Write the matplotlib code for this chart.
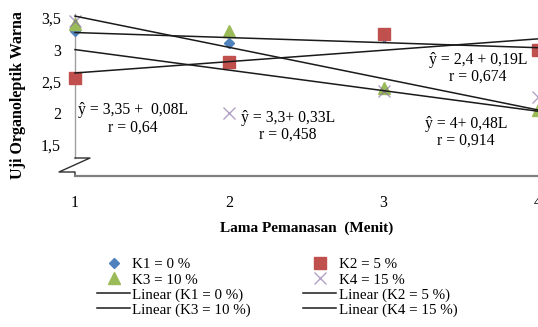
import matplotlib
matplotlib.use("Agg")
import matplotlib.pyplot as plt
from matplotlib.lines import Line2D
import numpy as np

plt.rcParams['font.family'] = ['Liberation Serif', 'DejaVu Serif']

x_vals = [1, 2, 3, 4]
k1 = [3.3, 3.1, 3.2, 3.0]
k2 = [2.55, 2.8, 3.25, 3.0]
k3 = [3.4, 3.3, 2.4, 2.05]
k4 = [3.45, 2.0, 2.35, 2.25]
series_names = ["K1 = 0 %", "K2 = 5 %", "K3 = 10 %", "K4 = 15 %"]
y_ticks = [1.5, 2, 2.5, 3, 3.5]
y_tick_labels = ["1,5", "2", "2,5", "3", "3,5"]
x_ticks = [1, 2, 3, 4]
annotations = [
    ("ŷ = 3,35 +  0,08L", "r = 0,64"),
    ("ŷ = 3,3+ 0,33L", "r = 0,458"),
    ("ŷ = 2,4 + 0,19L", "r = 0,674"),
    ("ŷ = 4+ 0,48L", "r = 0,914"),
]

W, H = 538, 327
fig = plt.figure(figsize=(W / 100, H / 100), dpi=100)
# pixel layout
x1_px, x4_px = 75, 538
y_bottom_px = 176
scale_y = 63.2
ymax = 3.6
ax = fig.add_axes([x1_px / W, (H - y_bottom_px) / H, (x4_px - x1_px) / W,
                   (ymax - 1) * scale_y / H])
ax.set_xlim(1, 4)
ax.set_ylim(1, ymax)

styles = [
    dict(marker='D', color='#4f81bd', ms=5.5, ls='none'),
    dict(marker='s', color='#c0504d', ms=8, ls='none'),
    dict(marker='^', color='#9bbb59', ms=8.5, ls='none'),
    dict(marker='x', color='#8064a2', ms=8.5, mew=1.0, ls='none', alpha=0.6),
]
data = [k1, k2, k3, k4]
xs = np.array(x_vals, dtype=float)
for d, st in zip(data, styles):
    ax.plot(xs, d, clip_on=False, zorder=3, **st)
for d in data:
    m, b = np.polyfit(xs, d, 1)
    ax.plot([1, 4], [m * 1 + b, m * 4 + b], color='#1a1a1a', lw=1.1, zorder=4,
            clip_on=False)

for s in ['top', 'right', 'left', 'bottom']:
    ax.spines[s].set_visible(False)

# axis lines with break
px_x = 1 / 154.33
px_y = 1 / scale_y
ax.plot([1, 1], [1 + 18 * px_y, 3.57], color='#a0a0a0', lw=1.0, clip_on=False, zorder=1)
zx = [1, 1 + 15 * px_x, 1 - 16 * px_x, 1, 1]
zy = [1 + 18 * px_y, 1 + 18 * px_y, 1 + 4 * px_y, 1 + 4 * px_y, 1]
ax.plot(zx, zy, color='#303030', lw=1.0, clip_on=False, zorder=1)
ax.plot([1, 4.05], [1, 1], color='#808080', lw=1.6, clip_on=False, zorder=1)

ax.set_yticks(y_ticks)
ax.set_yticklabels(y_tick_labels)
ax.set_xticks(x_ticks)
ax.set_xticklabels([str(v) for v in x_ticks])
ax.tick_params(axis='y', length=0, pad=10, labelsize=11.5)
ax.tick_params(axis='x', length=0, pad=14, labelsize=11.5)

fig.text(307 / W, 1 - 228 / H, "Lama Pemanasan  (Menit)", ha='center', va='center',
         fontsize=11, fontweight='bold')
fig.text(18 / W, 1 - 95 / H, "Uji Organoleptik Warna", ha='center', va='center',
         rotation=90, fontsize=11.5, fontweight='bold')

# annotation positions in pixels (center x, line1 y, line2 y)
ann_px = [(133, 110, 128), (288, 118, 135), (478, 60, 77), (466, 124, 141)]
def to_data(px, py):
    return 1 + (px - x1_px) * px_x, 1 + (y_bottom_px - py) * px_y
for (l1, l2), (cx, y1, y2) in zip(annotations, ann_px):
    xa, ya = to_data(cx, y1)
    ax.text(xa, ya, l1, ha='center', va='center', fontsize=11.3, zorder=5)
    xb, yb = to_data(cx, y2)
    ax.text(xb, yb, l2, ha='center', va='center', fontsize=11.3, zorder=5)

# legend
marker_handles = []
for st in styles:
    marker_handles.append(Line2D([], [], **st))
line_handles = [Line2D([], [], color='#1a1a1a', lw=1.1) for _ in range(4)]
line_labels = ["Linear (" + n + ")" for n in series_names]
handles = [marker_handles[0], marker_handles[2], line_handles[0], line_handles[2],
           marker_handles[1], marker_handles[3], line_handles[1], line_handles[3]]
labels = [series_names[0], series_names[2], line_labels[0], line_labels[2],
          series_names[1], series_names[3], line_labels[1], line_labels[3]]
fig.legend(handles, labels, ncol=2, loc='upper left',
           bbox_to_anchor=(97 / W, 1 - 258 / H), frameon=False, fontsize=10.8,
           borderpad=0, borderaxespad=0, handlelength=2.2, handletextpad=0.15,
           labelspacing=0.1, columnspacing=3.5)

fig.savefig("out.png", dpi=100)
